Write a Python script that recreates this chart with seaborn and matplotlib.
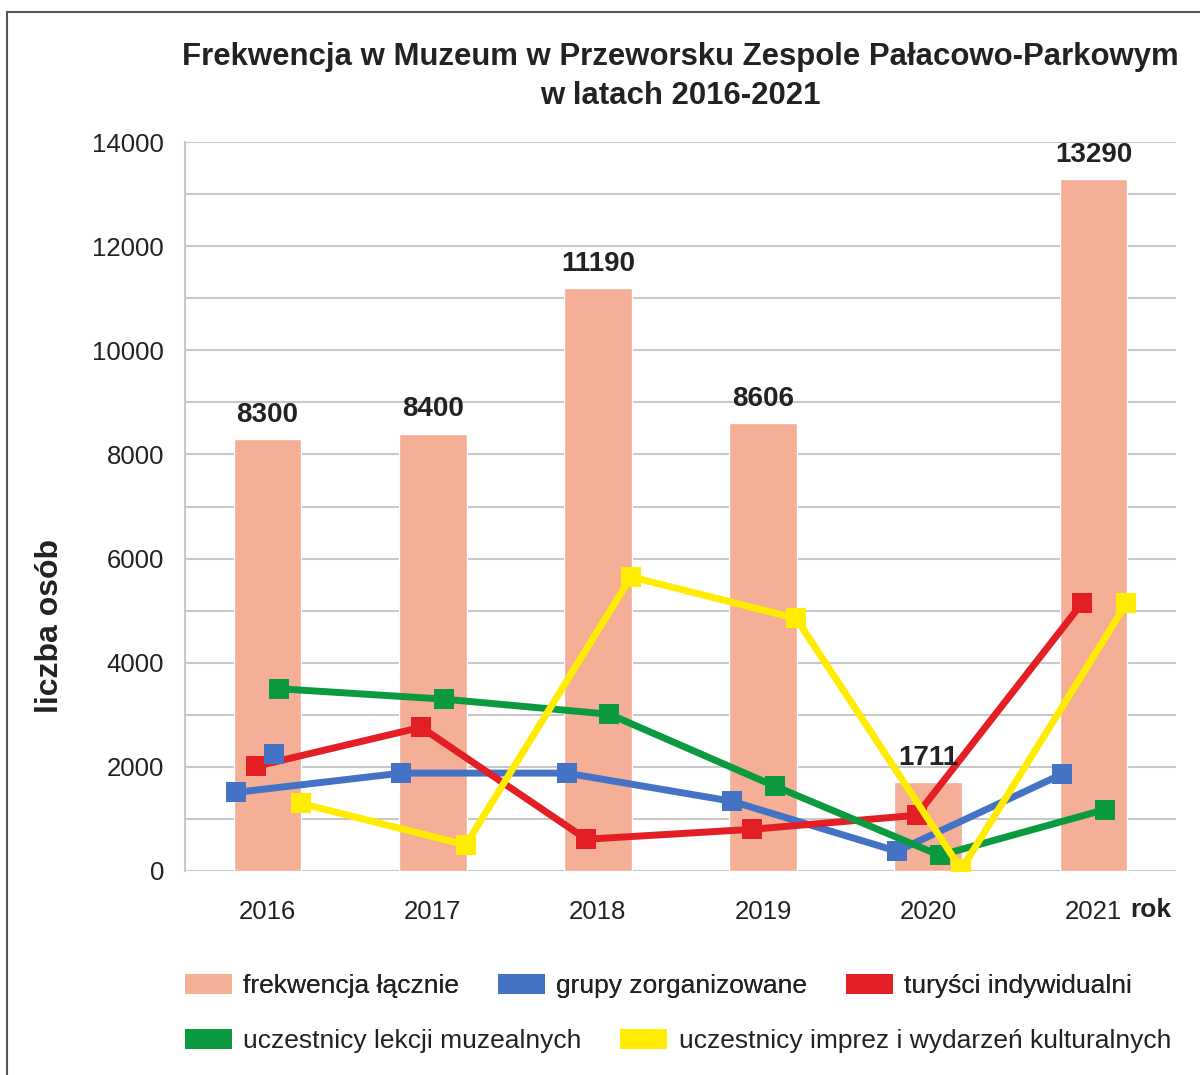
import numpy as np
import pandas as pd
import matplotlib
matplotlib.use("Agg")
import matplotlib.pyplot as plt
from matplotlib.patches import Patch, Rectangle
import seaborn as sns

sns.set_theme(style="white")
plt.rcParams['font.family'] = ['Liberation Sans', 'DejaVu Sans']

# data
years = ["2016", "2017", "2018", "2019", "2020", "2021"]
total = [8300, 8400, 11190, 8606, 1711, 13290]
groups = [1510, 1880, 1880, 1340, 380, 1860]
tourists = [2010, 2760, 610, 800, 1070, 5140]
lessons = [3500, 3300, 3010, 1630, 300, 1180]
events = [1300, 500, 5650, 4850, 30, 5140]
# one extra blue square drawn next to 2016
extra_year = "2016"
extra_value = 2250

labels = ["frekwencja łącznie", "grupy zorganizowane", "turyści indywidualni",
          "uczestnicy lekcji muzealnych", "uczestnicy imprez i wydarzeń kulturalnych"]
colors = ["#F4AF96", "#4472C4", "#E31E24", "#0B9A3F", "#FFEC00"]

df = pd.DataFrame({"rok": years, "frekwencja": total})

fig = plt.figure(figsize=(12, 10.75), dpi=100)
ax = fig.add_axes([185/1200, 1-871/1075, (1176-185)/1200, (871-142)/1075])

sns.barplot(data=df, x="rok", y="frekwencja", color=colors[0], width=0.41,
            saturation=1, ax=ax, zorder=2)

pos = np.arange(len(years))
series = [(groups, -0.19, colors[1]), (tourists, -0.07, colors[2]),
          (lessons, 0.07, colors[3]), (events, 0.2, colors[4])]
for vals, off, col in series:
    sns.lineplot(x=pos + off, y=vals, ax=ax, color=col, lw=5, marker="s",
                 markersize=14, markeredgewidth=0, zorder=3, sort=False)
ax.plot(years.index(extra_year) + 0.04, extra_value, marker="s", ms=14,
        mew=0, color=colors[1], zorder=3)

# bar value labels
for i, v in enumerate(total):
    ax.annotate(str(v), (i, v), xytext=(0, 8), textcoords="offset points",
                ha="center", va="bottom", fontsize=20, fontweight="bold",
                color="#222222", zorder=4)

ax.set_xlim(-0.5, 5.5)
ax.set_ylim(0, 14000)
ax.set_yticks(np.arange(0, 14001, 1000))
ax.set_yticklabels([str(v) if v % 2000 == 0 else "" for v in range(0, 14001, 1000)])
ax.yaxis.grid(True, color="#c8c8c8", lw=1.5, zorder=0)
ax.set_axisbelow(True)
ax.tick_params(axis="y", length=11, width=1.5, color="#c8c8c8", labelsize=18.5,
               labelcolor="#222222", pad=4)
ax.tick_params(axis="x", length=0, labelsize=18.5, labelcolor="#222222", pad=21)
for s in ["top", "right", "bottom"]:
    ax.spines[s].set_visible(False)
ax.spines["left"].set_color("#c8c8c8")
ax.spines["left"].set_linewidth(1.5)
ax.set_xlabel("")
ax.set_ylabel("liczba osób", fontsize=23, fontweight="bold", color="#222222")
ax.yaxis.set_label_coords(-120/991, 0.336)
ax.text((1171-185)/991, -0.0535, "rok", transform=ax.transAxes, fontsize=19,
        fontweight="bold", color="#222222", ha="right", va="center")

fig.text(680/1200, 1-57/1075, "Frekwencja w Muzeum w Przeworsku Zespole Pałacowo-Parkowym",
         ha="center", va="center", fontsize=22.4, fontweight="bold", color="#222222")
fig.text(680/1200, 1-96/1075, "w latach 2016-2021", ha="center", va="center",
         fontsize=22.4, fontweight="bold", color="#222222")

handles = [Patch(facecolor=c, edgecolor="none") for c in colors]
legend_kw = dict(loc="center left", frameon=False, fontsize=19, handlelength=1.78,
                 handleheight=0.76, columnspacing=1.48, handletextpad=0.42,
                 borderpad=0, borderaxespad=0, labelcolor="#222222")
leg1 = fig.legend(handles[:3], labels[:3], ncol=3,
                  bbox_to_anchor=(185/1200, 1-986/1075), **legend_kw)
leg2 = fig.legend(handles[3:], labels[3:], ncol=2,
                  bbox_to_anchor=(185/1200, 1-1041/1075), **legend_kw)
fig.add_artist(leg1)

fig.add_artist(Rectangle((7/1200, -0.1), 1.2, 1.1 - 12/1075, transform=fig.transFigure,
                         fill=False, edgecolor="#555555", lw=1.5, clip_on=False))

fig.savefig("out.png", dpi=100)
